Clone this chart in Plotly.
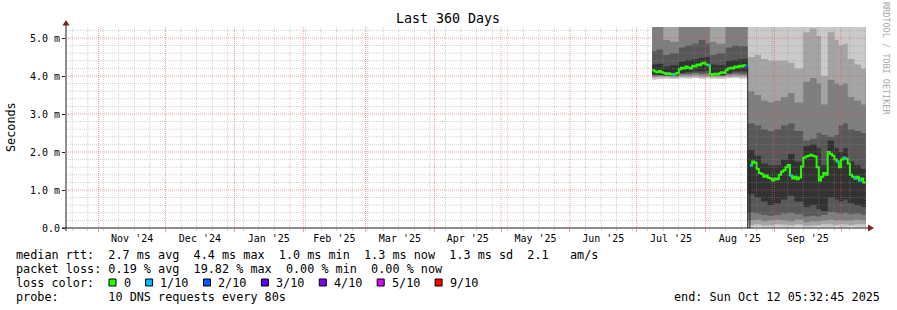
import plotly.graph_objects as go
import pandas as pd

FONT = "DejaVu Sans Mono"
W, H = 897, 310
ML, MR, MT, MB = 66, 31, 27, 82
PW, PH = W - ML - MR, H - MT - MB
PX_PER_MS = 38.0
Y_TOP = PH / PX_PER_MS

# ---------------- data ----------------
range_start = "2024-10-17 05:32:45"
range_end = "2025-10-12 05:32:45"

y_tick_vals = [0, 1, 2, 3, 4, 5]
y_tick_text = ["0.0", "1.0 m", "2.0 m", "3.0 m", "4.0 m", "5.0 m"]

# smoke bins (start dates); values are the 10 sorted ping times per bin, in ms
smoke_bins = ["2025-07-08", "2025-07-10", "2025-07-13", "2025-07-16", "2025-07-20", "2025-07-23",
              "2025-07-26", "2025-07-29", "2025-08-01", "2025-08-03", "2025-08-06", "2025-08-10",
              "2025-08-13", "2025-08-16",
              "2025-08-20", "2025-08-23", "2025-08-26", "2025-08-29", "2025-09-01", "2025-09-04",
              "2025-09-07", "2025-09-10", "2025-09-14", "2025-09-17", "2025-09-20", "2025-09-22",
              "2025-09-25", "2025-09-28", "2025-09-30", "2025-10-02", "2025-10-04", "2025-10-07",
              "2025-10-10"]
cp1 = [3.90, 3.92, 3.93, 3.92, 3.94, 3.93, 3.95, 3.92, 3.94, 3.93, 3.92, 3.94, 3.95, 3.93,
       0.02, 0.03, 0.02, 0.02, 0.03, 0.02, 0.02, 0.03, 0.02, 0.02, 0.03, 0.02, 0.02, 0.03, 0.02, 0.02, 0.03, 0.02, 0.02]
cp2 = [3.96, 3.97, 3.97, 3.96, 3.98, 3.98, 3.99, 3.97, 3.98, 3.97, 3.97, 3.98, 3.99, 3.98,
       0.08, 0.10, 0.07, 0.08, 0.10, 0.09, 0.08, 0.10, 0.06, 0.07, 0.08, 0.10, 0.09, 0.08, 0.10, 0.09, 0.08, 0.10, 0.09]
cp3 = [3.99, 4.00, 4.00, 3.99, 4.02, 4.02, 4.03, 4.01, 4.02, 4.00, 4.00, 4.02, 4.03, 4.02,
       0.20, 0.22, 0.18, 0.20, 0.22, 0.20, 0.18, 0.22, 0.15, 0.17, 0.18, 0.20, 0.22, 0.20, 0.21, 0.19, 0.20, 0.22, 0.20]
cp4 = [4.02, 4.02, 4.01, 4.01, 4.05, 4.06, 4.08, 4.06, 4.07, 4.01, 4.01, 4.05, 4.07, 4.06,
       0.40, 0.38, 0.35, 0.32, 0.35, 0.38, 0.40, 0.36, 0.30, 0.32, 0.30, 0.35, 0.42, 0.40, 0.38, 0.40, 0.36, 0.38, 0.35]
cp5 = [4.04, 4.03, 4.02, 4.02, 4.08, 4.10, 4.12, 4.12, 4.14, 4.02, 4.02, 4.08, 4.12, 4.12,
       0.90, 0.80, 0.70, 0.60, 0.65, 0.75, 0.85, 0.70, 0.55, 0.60, 0.50, 0.45, 0.80, 0.75, 0.70, 0.75, 0.65, 0.60, 0.55]
cp6 = [4.30, 4.32, 4.25, 4.28, 4.38, 4.42, 4.45, 4.48, 4.50, 4.30, 4.28, 4.40, 4.42, 4.45,
       2.05, 1.90, 1.70, 1.65, 1.65, 1.80, 1.95, 1.75, 2.15, 2.20, 2.10, 1.65, 2.30, 2.10, 2.00, 2.10, 1.75, 1.65, 1.55]
cp7 = [4.65, 4.70, 4.55, 4.60, 4.75, 4.80, 4.85, 4.95, 4.85, 4.55, 4.60, 4.75, 4.80, 4.78,
       2.75, 2.70, 2.60, 2.55, 2.60, 2.70, 2.75, 2.55, 2.30, 2.35, 2.50, 2.45, 2.40, 2.45, 2.70, 2.75, 2.60, 2.55, 2.50]
cp8 = [5.50, 5.60, 4.95, 4.90, 5.60, 5.70, 5.80, 5.90, 5.80, 4.90, 4.85, 5.60, 5.70, 5.60,
       3.60, 3.50, 3.35, 3.30, 3.35, 3.45, 3.55, 3.30, 3.85, 3.95, 3.80, 3.25, 3.90, 3.80, 3.75, 3.80, 3.45, 3.35, 3.25]
cp9 = [6.20, 6.30, 5.90, 5.80, 6.40, 6.50, 6.60, 6.70, 6.60, 5.80, 5.70, 6.40, 6.50, 6.40,
       4.50, 4.55, 4.45, 4.40, 4.40, 4.40, 4.35, 4.20, 5.15, 5.25, 5.05, 4.00, 5.15, 4.95, 4.80, 4.85, 4.45, 4.30, 4.20]
cp10 = [7.80, 7.90, 7.40, 7.30, 8.10, 8.20, 8.30, 8.40, 8.30, 7.30, 7.20, 8.10, 8.20, 8.00,
        6.80, 6.90, 6.70, 6.60, 6.70, 6.80, 6.90, 6.60, 7.40, 7.60, 7.20, 6.40, 7.40, 7.00, 6.90, 7.00, 6.80, 6.60, 6.50]

# daily median rtt (ms) from 2025-07-08 to 2025-10-11
median_start = "2025-07-08"
median_ms = [
    4.15, 4.12, 4.10, 4.13, 4.10,                                  # Jul 8-12
    4.08, 4.05, 4.07, 4.05, 4.04, 4.06, 4.08,                      # Jul 13-19
    4.18, 4.22, 4.20, 4.25, 4.22, 4.20, 4.27, 4.25, 4.30, 4.28, 4.33, 4.35,  # Jul 20-31
    4.30, 4.28,                                                    # Aug 1-2
    4.05, 4.02, 4.06, 4.04, 4.07, 4.10, 4.08,                      # Aug 3-9
    4.15, 4.20, 4.22, 4.20, 4.25, 4.23, 4.27, 4.25, 4.28, 4.25,    # Aug 10-19
    0.00, 1.65, 1.75, 1.72, 1.55, 1.45, 1.42, 1.35, 1.38, 1.32, 1.30, 1.25,  # Aug 20-31
    1.30, 1.28, 1.40, 1.48, 1.52, 1.60, 1.66, 1.38, 1.30, 1.35,    # Sep 1-10
    1.28, 1.33, 1.62, 1.85, 1.88, 1.90, 1.93, 1.90, 1.88, 1.60,    # Sep 11-20
    1.25, 1.35, 1.45, 1.40, 2.00, 1.95, 1.90, 1.80, 1.75, 1.60,    # Sep 21-30
    1.80, 1.85, 1.82, 1.70, 1.40, 1.35, 1.30, 1.35, 1.25, 1.30, 1.20,  # Oct 1-11
]
loss_days = ["2025-07-17", "2025-08-02", "2025-08-19", "2025-08-21", "2025-09-08",
             "2025-09-29", "2025-10-02", "2025-10-07", "2025-10-09"]
loss_levels = [1, 1, 2, 1, 1, 1, 1, 1, 1]

loss_labels = ["0", "1/10", "2/10", "3/10", "4/10", "5/10", "9/10"]
loss_colors = ["#26ff00", "#00b8ff", "#0059ff", "#5e00ff", "#7e00ff", "#dd00ff", "#ff0000"]
loss_level_index = {0: 0, 1: 1, 2: 2, 3: 3, 4: 4, 5: 5, 9: 6}

title_text = "Last 360 Days"
y_title = "Seconds"
watermark = "RRDTOOL / TOBI OETIKER"
line_median = "median rtt:  2.7 ms avg  4.4 ms max  1.0 ms min  1.3 ms now  1.3 ms sd  2.1   am/s"
line_loss = "packet loss: 0.19 % avg  19.82 % max  0.00 % min  0.00 % now"
line_color = "loss color:"
line_probe = "probe:       10 DNS requests every 80s"
line_end = "end: Sun Oct 12 05:32:45 2025"

# ---------------- helpers ----------------
def fx(px):
    return (px - ML) / PW

def fy(py):
    return (MT + PH - py) / PH

def nb(s):
    return s.replace(" ", "\u00a0")

CHAR = 7.1
LEG_SIZE = 11.8
minor_col = "rgba(143,143,143,0.42)"
major_col = "rgba(222,79,79,0.55)"
DOT = "1px,1px"

fig = go.Figure()

# ---------------- smoke ----------------
x_steps = smoke_bins + [range_end]

def step(v):
    return list(v) + [v[-1]]

bands = [(cp1, cp10, "#cacaca"), (cp2, cp9, "#a4a4a4"), (cp3, cp8, "#7e7e7e"),
         (cp4, cp7, "#585858"), (cp5, cp6, "#323232")]
for lo, hi, col in bands:
    fig.add_trace(go.Scatter(x=x_steps, y=step(lo), mode="lines",
                             line=dict(width=0, shape="hv"), hoverinfo="skip", showlegend=False))
    fig.add_trace(go.Scatter(x=x_steps, y=step(hi), mode="lines", fill="tonexty", fillcolor=col,
                             line=dict(width=0, shape="hv"), hoverinfo="skip", showlegend=False))

# ---------------- median ----------------
med_dates = list(pd.date_range(median_start, periods=len(median_ms), freq="D")) + [pd.Timestamp(range_end)]
med_y = median_ms + [median_ms[-1]]
fig.add_trace(go.Scatter(x=med_dates, y=med_y, mode="lines",
                         line=dict(color="#202020", width=1, shape="hv"), hoverinfo="skip", showlegend=False))
green_y = [v if v > 0 else None for v in med_y]
fig.add_trace(go.Scatter(x=med_dates, y=green_y, mode="lines", connectgaps=False,
                         line=dict(color=loss_colors[0], width=2, shape="hv"), hoverinfo="skip", showlegend=False))

# loss-coloured median segments
t0 = pd.Timestamp(median_start)
for lvl in sorted(set(loss_levels)):
    xs, ys = [], []
    for d, l in zip(loss_days, loss_levels):
        if l != lvl:
            continue
        ts = pd.Timestamp(d)
        v = median_ms[(ts - t0).days]
        xs += [ts, ts + pd.Timedelta(days=1), None]
        ys += [v, v, None]
    fig.add_trace(go.Scatter(x=xs, y=ys, mode="lines",
                             line=dict(color=loss_colors[loss_level_index[lvl]], width=2.5),
                             hoverinfo="skip", showlegend=False))

# ---------------- grid (above the smoke, like rrdtool) ----------------
shapes = []
month_starts = pd.date_range("2024-11-01", "2025-10-01", freq="MS")
weeks = pd.date_range("2024-10-20", "2025-10-12", freq="7D")
for d in weeks:
    if d in month_starts:
        continue
    ds = d.strftime("%Y-%m-%d")
    shapes.append(dict(type="line", xref="x", yref="paper", x0=ds, x1=ds, y0=0, y1=1,
                       line=dict(color=minor_col, width=1, dash=DOT), layer="above"))
for i in range(1, 27):
    if i % 5 == 0:
        continue
    v = i * 0.2
    shapes.append(dict(type="line", xref="paper", yref="y", x0=0, x1=1, y0=v, y1=v,
                       line=dict(color=minor_col, width=1, dash=DOT), layer="above"))
for d in month_starts:
    ds = d.strftime("%Y-%m-%d")
    shapes.append(dict(type="line", xref="x", yref="paper", x0=ds, x1=ds, y0=0, y1=1,
                       line=dict(color=major_col, width=1, dash=DOT), layer="above"))
for v in y_tick_vals[1:]:
    shapes.append(dict(type="line", xref="paper", yref="y", x0=0, x1=1, y0=v, y1=v,
                       line=dict(color=major_col, width=1, dash=DOT), layer="above"))

# axes with arrows
axis_col = "#1f1f1f"
arrow_col = "#801f1f"
shapes.append(dict(type="line", xref="paper", yref="paper", x0=fx(62), x1=fx(869), y0=0, y1=0,
                   line=dict(color=axis_col, width=1), layer="above"))
shapes.append(dict(type="line", xref="paper", yref="paper", x0=0, x1=0, y0=fy(231), y1=fy(22),
                   line=dict(color=axis_col, width=1), layer="above"))
shapes.append(dict(type="path", xref="paper", yref="paper", layer="above",
                   path=f"M {fx(62.5)} {fy(25.5)} L {fx(69.5)} {fy(25.5)} L {fx(66)} {fy(20)} Z",
                   fillcolor=arrow_col, line=dict(width=0)))
shapes.append(dict(type="path", xref="paper", yref="paper", layer="above",
                   path=f"M {fx(868)} {fy(224.5)} L {fx(868)} {fy(231.5)} L {fx(874)} {fy(228)} Z",
                   fillcolor=arrow_col, line=dict(width=0)))

# ---------------- legend / text ----------------
ann = []
def text(px, py, s, size=LEG_SIZE, anchor="left", color="black", angle=0):
    ann.append(dict(x=fx(px), y=fy(py), xref="paper", yref="paper", text=nb(s), showarrow=False,
                    xanchor=anchor, yanchor="middle", textangle=angle, borderpad=0,
                    font=dict(family=FONT, size=size, color=color)))

text(448, 19, title_text, size=13.3, anchor="center")
text(11, 127, y_title, size=LEG_SIZE, anchor="center", angle=-90)
text(886, 59, watermark, size=8.5, anchor="center", color="#a8a8a8", angle=90)
text(15, 254.5, line_median)
text(15, 268.5, line_loss)
text(15, 282.5, line_color)
text(15, 296.5, line_probe)
text(881, 296.5, line_end, anchor="right")

bx = 109.0
for lab, col in zip(loss_labels, loss_colors):
    shapes.append(dict(type="rect", xref="paper", yref="paper", x0=fx(bx), x1=fx(bx + 7),
                       y0=fy(286), y1=fy(279), fillcolor=col, line=dict(color="black", width=1)))
    text(bx + 13.5, 282.5, lab)
    bx = bx + 14 + len(lab) * CHAR + 15.5

fig.update_layout(
    width=W, height=H, autosize=False,
    margin=dict(l=ML, r=MR, t=MT, b=MB, pad=0),
    paper_bgcolor="white", plot_bgcolor="white",
    showlegend=False, hovermode=False,
    shapes=shapes, annotations=ann,
    xaxis=dict(type="date", range=[range_start, range_end], showgrid=False, zeroline=False, showline=False,
               tickmode="linear", tick0="2024-11-01", dtick="M1", ticklabelmode="period",
               tickformat="%b '%y", ticks="outside", ticklen=3, tickcolor=major_col, tickwidth=1,
               ticklabelstandoff=-2,
               tickfont=dict(family=FONT, size=10, color="black"),
               minor=dict(tick0="2024-10-20", dtick=7 * 86400000, ticks="outside", ticklen=2,
                          tickcolor=minor_col, showgrid=False),
               fixedrange=True),
    yaxis=dict(range=[0, Y_TOP], tickmode="array", tickvals=y_tick_vals, ticktext=y_tick_text,
               showgrid=False, zeroline=False, showline=False, ticks="outside", ticklen=3,
               tickcolor=axis_col, tickfont=dict(family=FONT, size=10, color="black"),
               fixedrange=True),
)

fig.write_html("out.html", config={"displayModeBar": False, "staticPlot": True})
